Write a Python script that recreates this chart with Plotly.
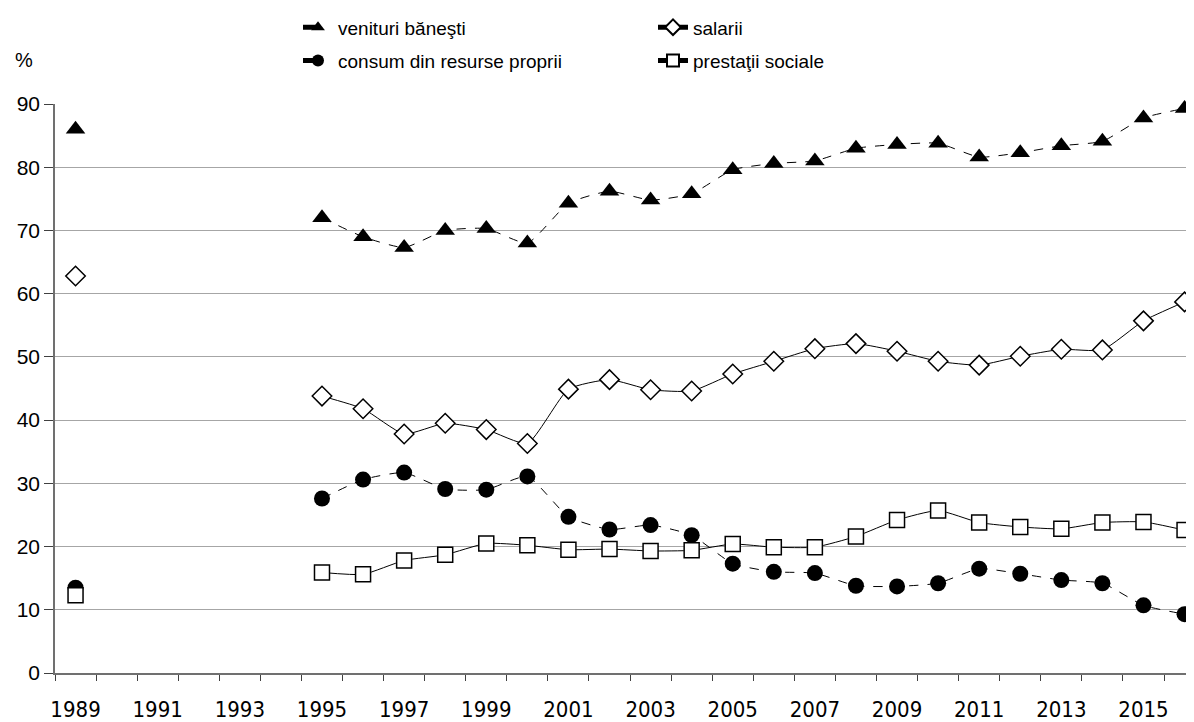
import plotly.graph_objects as go

years = [1989] + list(range(1995, 2017))

venituri = [86.0, 72.0, 69.0, 67.3, 70.0, 70.3, 68.0, 74.3, 76.2, 74.8, 75.8, 79.6,
            80.6, 81.0, 83.0, 83.6, 83.8, 81.6, 82.3, 83.4, 84.1, 87.8, 89.3]
salarii = [62.8, 43.8, 41.8, 37.8, 39.5, 38.5, 36.3, 44.9, 46.4, 44.8, 44.6, 47.3,
           49.3, 51.3, 52.1, 50.9, 49.3, 48.7, 50.1, 51.2, 51.1, 55.7, 58.7]
consum = [13.5, 27.6, 30.6, 31.7, 29.1, 29.0, 31.1, 24.7, 22.7, 23.4, 21.8, 17.3,
          16.0, 15.8, 13.8, 13.7, 14.2, 16.5, 15.7, 14.7, 14.2, 10.7, 9.3]
prestatii = [12.3, 15.9, 15.6, 17.8, 18.7, 20.5, 20.2, 19.5, 19.6, 19.3, 19.4, 20.4,
             19.9, 19.9, 21.6, 24.2, 25.7, 23.8, 23.1, 22.8, 23.8, 23.9, 22.6]

year_labels = [str(y) for y in range(1989, 2017, 2)]

FONT = "Liberation Sans, Arial, sans-serif"
NARROW = "Liberation Sans Narrow, Arial Narrow, DejaVu Sans Condensed, sans-serif"

# the page body has an 8px margin, so the figure is drawn 8px smaller
W, H = 1186, 714
ML, MT, MB = 47, 89, 46
PW, PH = W - ML, H - MT - MB


def split(vals):
    # 1989 stands alone, no line to 1995
    return [years[0], None] + years[1:], [vals[0], None] + vals[1:]


fig = go.Figure()

series = [
    ("venituri băneşti", venituri, "dash",
     dict(symbol="triangle-up", size=17, color="black"), "legend"),
    ("salarii", salarii, "solid",
     dict(symbol="diamond", size=15, color="white", line=dict(color="black", width=1.5)), "legend"),
    ("consum din resurse proprii", consum, "dash",
     dict(symbol="circle", size=16, color="black"), "legend2"),
    ("prestaţii sociale", prestatii, "solid",
     dict(symbol="square", size=15, color="white", line=dict(color="black", width=1.5)), "legend2"),
]

for name, vals, dash, marker, leg in series:
    xs, ys = split(vals)
    fig.add_trace(go.Scatter(
        x=xs, y=ys, name=name, mode="lines+markers",
        line=dict(color="black", width=1, dash=dash, shape="spline", smoothing=0.5),
        marker=marker, connectgaps=False, legend=leg, cliponaxis=False,
    ))


def px_x(x):
    return (x - ML) / PW


def px_y(y):
    return (H - MB - y) / PH


fig.update_layout(
    width=W, height=H,
    margin=dict(l=ML, r=0, t=MT, b=MB),
    paper_bgcolor="white", plot_bgcolor="white",
    font=dict(family=FONT, size=19, color="black"),
    legend=dict(orientation="h", x=px_x(290), y=px_y(11), xanchor="left", yanchor="middle",
                entrywidth=310, entrywidthmode="pixels", font=dict(size=19),
                bgcolor="rgba(0,0,0,0)", itemsizing="constant"),
    legend2=dict(orientation="h", x=px_x(290), y=px_y(45), xanchor="left", yanchor="middle",
                 entrywidth=310, entrywidthmode="pixels", font=dict(size=19),
                 bgcolor="rgba(0,0,0,0)", itemsizing="constant"),
    xaxis=dict(
        range=[1988.5, 2016.23],
        tickvals=list(range(1989, 2017, 2)), ticktext=year_labels,
        ticks="", showgrid=False, ticklabelstandoff=16,
        showline=True, linecolor="#707070", linewidth=1.5,
        tickfont=dict(family=NARROW, size=22),
        minor=dict(tick0=1988.5, dtick=1, ticks="outside", ticklen=6,
                   tickcolor="#404040", showgrid=False),
        zeroline=False,
    ),
    yaxis=dict(
        range=[0, 90], dtick=10,
        showgrid=True, gridcolor="#a6a6a6", gridwidth=1,
        showline=True, linecolor="#707070", linewidth=1.5,
        ticks="outside", ticklen=9, tickcolor="#404040",
        tickfont=dict(size=21), zeroline=False,
    ),
    annotations=[dict(text="%", x=px_x(16), y=px_y(44), xref="paper", yref="paper",
                      xanchor="center", yanchor="middle",
                      showarrow=False, font=dict(size=20))],
)

fig.write_html("out.html")
